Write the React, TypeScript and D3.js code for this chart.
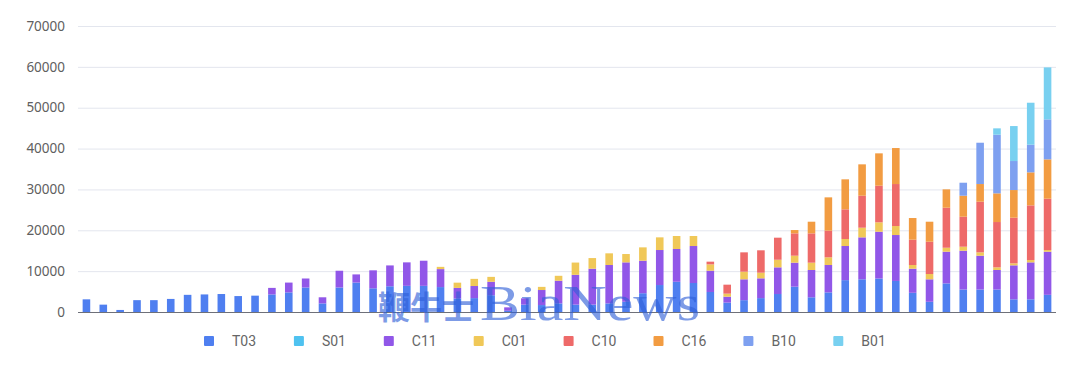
import React, { useEffect, useRef } from "react";
import * as d3 from "d3";

const width = 1080;
const height = 385;

// series keys, bottom to top, same order as the legend
const seriesKeys = ["T03", "S01", "C11", "C01", "C10", "C16", "B10", "B01"];
const seriesColors = [
  "#4f7ff0",
  "#4fc2f0",
  "#9157e8",
  "#f0c858",
  "#ee6a69",
  "#f29c42",
  "#7ea0f0",
  "#78d0f0",
];

const yTicks = [0, 10000, 20000, 30000, 40000, 50000, 60000, 70000];

const T03 = [
  3100, 1800, 500, 2900, 2900, 3200, 4200, 4300, 4400, 3900, 4000, 4300, 4800,
  6000, 2100, 6000, 7200, 5800, 6300, 6400, 6400, 6100, 3300, 3400, 4100, 300,
  1800, 1700, 2100, 1800, 1800, 2100, 2500, 4600, 6600, 7400, 7100, 4900, 2300,
  2900, 3400, 4400, 6200, 3600, 4800, 7800, 8000, 8200, 7600, 4700, 2500, 7000,
  5500, 5500, 5500, 3100, 3100, 4200,
];
const S01 = new Array(58).fill(0);
const C11 = [
  0, 0, 0, 0, 0, 0, 0, 0, 0, 0, 0, 1600, 2400, 2200, 1500, 4100, 2000, 4400,
  5100, 5750, 6150, 4400, 2600, 2960, 3300, 840, 1550, 3680, 5560, 7300, 8800,
  9400, 9650, 7960, 8570, 8020, 9050, 5210, 1450, 5100, 4840, 6530, 5870, 6680,
  6700, 8350, 10270, 11450, 11240, 5900, 5500, 7760, 9500, 8280, 4780, 8320,
  9050, 10560,
];
const C01 = [
  0, 0, 0, 0, 0, 0, 0, 0, 0, 0, 0, 0, 0, 0, 0, 0, 0, 0, 0, 0, 0, 550, 1280,
  1750, 1200, 0, 0, 770, 1200, 3000, 2600, 2860, 2040, 3260, 3100, 3180, 2450,
  1550, 740, 1870, 1380, 1860, 1710, 1790, 1880, 1710, 2360, 2300, 2200, 900,
  1300, 970, 980, 820, 650, 490, 570, 410,
];
const C10 = [
  0, 0, 0, 0, 0, 0, 0, 0, 0, 0, 0, 0, 0, 0, 0, 0, 0, 0, 0, 0, 0, 0, 0, 0, 0,
  0, 0, 0, 0, 0, 0, 0, 0, 0, 0, 0, 0, 660, 2200, 4730, 5480, 5400, 5470, 7180,
  6520, 7270, 7830, 8960, 10280, 6200, 7900, 9790, 7340, 12390, 11090, 11170,
  13380, 12560,
];
const C16 = [
  0, 0, 0, 0, 0, 0, 0, 0, 0, 0, 0, 0, 0, 0, 0, 0, 0, 0, 0, 0, 0, 0, 0, 0, 0,
  0, 0, 0, 0, 0, 0, 0, 0, 0, 0, 0, 0, 0, 0, 0, 0, 0, 810, 2850, 8160, 7340,
  7680, 7920, 8810, 5300, 4900, 4500, 5140, 4330, 7020, 6770, 8080, 9630,
];
const B10 = [
  0, 0, 0, 0, 0, 0, 0, 0, 0, 0, 0, 0, 0, 0, 0, 0, 0, 0, 0, 0, 0, 0, 0, 0, 0,
  0, 0, 0, 0, 0, 0, 0, 0, 0, 0, 0, 0, 0, 0, 0, 0, 0, 0, 0, 0, 0, 0, 0, 0, 0,
  0, 0, 3180, 10110, 14350, 7100, 6760, 9780,
];
const B01 = [
  0, 0, 0, 0, 0, 0, 0, 0, 0, 0, 0, 0, 0, 0, 0, 0, 0, 0, 0, 0, 0, 0, 0, 0, 0,
  0, 0, 0, 0, 0, 0, 0, 0, 0, 0, 0, 0, 0, 0, 0, 0, 0, 0, 0, 0, 0, 0, 0, 0, 0,
  0, 0, 0, 0, 1560, 8560, 10280, 12730,
];

const seriesValues = [T03, S01, C11, C01, C10, C16, B10, B01];

const StackedBars = () => {
  const svgRef = useRef(null);

  useEffect(() => {
    const svg = d3.select(svgRef.current);
    svg.selectAll("*").remove();

    const margin = { top: 26, left: 78, right: 24, bottom: 73 };
    const rows = T03.map((_, i) => {
      const row: any = { idx: i };
      seriesKeys.forEach((k, j) => (row[k] = seriesValues[j][i]));
      return row;
    });

    const xScale = d3
      .scaleBand()
      .domain(rows.map((d) => d.idx))
      .range([margin.left, width - margin.right])
      .paddingInner(0.55)
      .paddingOuter(0.275);

    const yScale = d3
      .scaleLinear()
      .domain([0, 70000])
      .range([height - margin.bottom, margin.top]);

    // light grid lines
    svg
      .append("g")
      .selectAll("line")
      .data(yTicks.slice(1))
      .enter()
      .append("line")
      .attr("x1", margin.left)
      .attr("x2", width - margin.right)
      .attr("y1", (d) => yScale(d) + 0.5)
      .attr("y2", (d) => yScale(d) + 0.5)
      .style("stroke", "#e3e6ee");

    // y labels
    svg
      .append("g")
      .selectAll("text")
      .data(yTicks)
      .enter()
      .append("text")
      .attr("x", margin.left - 13)
      .attr("y", (d) => yScale(d))
      .attr("dy", "0.35em")
      .attr("text-anchor", "end")
      .text((d) => d)
      .style("font-family", "'Noto Sans', 'Open Sans', sans-serif")
      .style("font-size", "13.5px")
      .style("fill", "#606060");

    // stacked bars
    const stack = d3.stack().keys(seriesKeys)(rows);
    const barW = xScale.bandwidth();

    svg
      .append("g")
      .selectAll("g")
      .data(stack)
      .enter()
      .append("g")
      .style("fill", (_, i) => seriesColors[i])
      .selectAll("rect")
      .data((d) => d.filter((p) => p[1] - p[0] > 0))
      .enter()
      .append("rect")
      .attr("x", (d: any) => xScale(d.data.idx))
      .attr("y", (d) => yScale(d[1]))
      .attr("width", barW)
      .attr("height", (d) => yScale(d[0]) - yScale(d[1]));

    // bottom axis line
    svg
      .append("line")
      .attr("x1", margin.left)
      .attr("x2", width - margin.right)
      .attr("y1", yScale(0) + 0.5)
      .attr("y2", yScale(0) + 0.5)
      .style("stroke", "#6e7079");

    // legend
    const legend = svg
      .append("g")
      .selectAll("g")
      .data(seriesKeys)
      .enter()
      .append("g")
      .attr("transform", (_, i) => `translate(${209 + i * 89.9},341)`);

    legend
      .append("rect")
      .attr("x", -5)
      .attr("y", -5)
      .attr("width", 10)
      .attr("height", 10)
      .attr("rx", 1)
      .style("fill", (_, i) => seriesColors[i]);

    legend
      .append("text")
      .attr("x", 23)
      .attr("dy", "0.35em")
      .text((d) => d)
      .style("font-family", "'Roboto', sans-serif")
      .style("font-size", "14px")
      .style("fill", "#666");

    // big watermark over the chart
    const wm = svg.append("g").style("fill", "#2f5fd8").style("opacity", 0.62);
    wm.append("text")
      .attr("x", 378)
      .attr("y", 319)
      .text("鞭牛士")
      .style("font-family", "'Noto Sans CJK SC', serif")
      .style("font-weight", "bold")
      .style("font-size", "32px");
    wm.append("text")
      .attr("x", 480)
      .attr("y", 320)
      .text("BiaNews")
      .style("font-family", "'Liberation Serif', 'DejaVu Serif', serif")
      .style("font-size", "50px")
      .attr("textLength", 220)
      .attr("lengthAdjust", "spacingAndGlyphs");
  }, []);

  return (
    <svg
      ref={svgRef}
      width={width}
      height={height}
      style={{ position: "absolute", left: 0, top: 0, background: "#fff" }}
    ></svg>
  );
};

export default function App() {
  return <StackedBars />;
}
